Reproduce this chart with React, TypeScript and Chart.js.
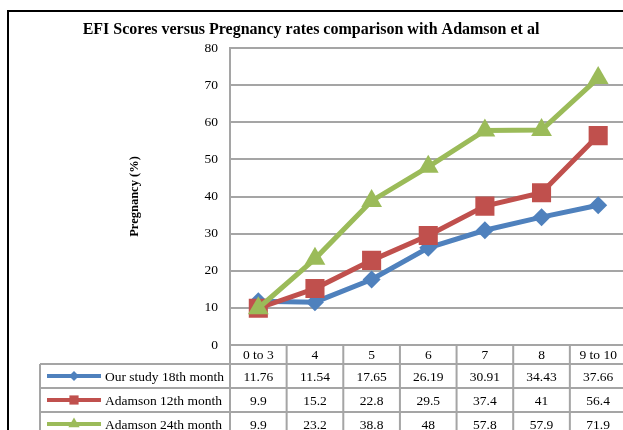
import React, { useEffect, useRef } from "react";
import { Chart, registerables } from "chart.js";
import { drawPoint } from "chart.js/helpers";

Chart.register(...registerables);

const categories = ["0 to 3", "4", "5", "6", "7", "8", "9 to 10"];
const ourStudy18 = [11.76, 11.54, 17.65, 26.19, 30.91, 34.43, 37.66];
const adamson12 = [9.9, 15.2, 22.8, 29.5, 37.4, 41, 56.4];
const adamson24 = [9.9, 23.2, 38.8, 48, 57.8, 57.9, 71.9];
const seriesNames = ["Our study 18th month", "Adamson 12th month", "Adamson 24th month"];
const seriesValues = [ourStudy18, adamson12, adamson24];
const seriesColors = ["#4F81BD", "#C0504D", "#9BBB59"];
const seriesMarkers = ["rectRot", "rect", "triangle"];
const seriesRadius = [9, 13.5, 12];
const titleText = "EFI Scores versus Pregnancy rates comparison with Adamson et al";
const yTitle = "Pregnancy (%)";

const FONT = "'Liberation Serif', 'Times New Roman', serif";
const GRID = "#a5a5a5";

const tablePlugin = {
  id: "dataTable",
  afterDraw(chart: any) {
    const ctx = chart.ctx;
    const ca = chart.chartArea;
    const xs = chart.scales.x;
    const n = categories.length;
    const colW = (ca.right - ca.left) / n;
    const headTop = ca.bottom;
    const headBottom = headTop + 19;
    const rowH = 24;
    const tableLeft = 40;
    const tableBottom = headBottom + rowH * 3;
    ctx.save();
    // outer border
    ctx.strokeStyle = "#000";
    ctx.lineWidth = 2;
    ctx.beginPath();
    ctx.moveTo(8, 700);
    ctx.lineTo(8, 11);
    ctx.lineTo(1000, 11);
    ctx.stroke();
    // title
    ctx.fillStyle = "#000";
    ctx.font = "bold 16px " + FONT;
    ctx.textAlign = "center";
    ctx.textBaseline = "middle";
    ctx.fillText(titleText, 311, 30);
    // table lines
    ctx.strokeStyle = GRID;
    ctx.lineWidth = 2;
    ctx.beginPath();
    for (let i = 0; i <= n; i++) {
      const x = ca.left + i * colW;
      ctx.moveTo(x, headTop);
      ctx.lineTo(x, tableBottom);
    }
    ctx.moveTo(tableLeft, headBottom);
    ctx.lineTo(tableLeft, tableBottom);
    for (let r = 0; r <= 3; r++) {
      const y = headBottom + r * rowH;
      ctx.moveTo(tableLeft, y);
      ctx.lineTo(ca.right + 20, y);
    }
    ctx.stroke();
    // header text
    ctx.fillStyle = "#000";
    ctx.font = "13.5px " + FONT;
    ctx.textAlign = "center";
    ctx.textBaseline = "middle";
    categories.forEach((c, i) => {
      ctx.fillText(c, xs.getPixelForValue(i), (headTop + headBottom) / 2 + 1);
    });
    // rows
    seriesValues.forEach((vals, r) => {
      const cy = headBottom + r * rowH + rowH / 2;
      vals.forEach((v, i) => {
        ctx.fillStyle = "#000";
        ctx.textAlign = "center";
        ctx.fillText(String(v), xs.getPixelForValue(i), cy + 1);
      });
      // legend key
      ctx.strokeStyle = seriesColors[r];
      ctx.lineWidth = 4;
      ctx.beginPath();
      ctx.moveTo(47, cy);
      ctx.lineTo(101, cy);
      ctx.stroke();
      ctx.fillStyle = seriesColors[r];
      ctx.strokeStyle = seriesColors[r];
      const mr = [5, 6.5, 6.5][r];
      drawPoint(ctx, { pointStyle: seriesMarkers[r] as any, radius: mr, borderWidth: 0, rotation: 0 }, 74, cy);
      ctx.fillStyle = "#000";
      ctx.textAlign = "left";
      ctx.fillText(seriesNames[r], 105, cy + 1);
    });
    ctx.restore();
  },
};

export default function App() {
  const ref = useRef<HTMLCanvasElement>(null);
  useEffect(() => {
    if (!ref.current) return;
    const chart = new Chart(ref.current, {
      type: "line",
      data: {
        labels: categories,
        datasets: seriesValues.map((vals, i) => ({
          label: seriesNames[i],
          data: vals,
          borderColor: seriesColors[i],
          backgroundColor: seriesColors[i],
          borderWidth: 5,
          pointStyle: seriesMarkers[i] as any,
          pointRadius: seriesRadius[i],
          pointBorderWidth: 0,
          pointBackgroundColor: seriesColors[i],
          tension: 0,
          order: 3 - i,
        })),
      },
      options: {
        animation: false,
        responsive: false,
        devicePixelRatio: 1,
        layout: { padding: { left: 123, top: 48, right: 13, bottom: 95 } },
        plugins: {
          legend: { display: false },
          title: { display: false },
          tooltip: { enabled: false },
        },
        scales: {
          x: {
            type: "category",
            offset: true,
            grid: { display: false, drawTicks: false },
            ticks: { display: false },
            border: { display: true, color: GRID, width: 2 },
            afterFit: (s: any) => {
              s.height = 0;
            },
          },
          y: {
            min: 0,
            max: 80,
            ticks: {
              stepSize: 10,
              padding: 12,
              color: "#000",
              font: { family: FONT, size: 13.5 },
            },
            grid: { color: GRID, lineWidth: 2, drawTicks: false },
            border: { display: true, color: GRID, width: 2 },
            title: {
              display: true,
              text: yTitle,
              color: "#000",
              font: { family: FONT, size: 12.5, weight: "bold" },
            },
            afterFit: (s: any) => {
              s.width = 107;
            },
          },
        },
      },
      plugins: [tablePlugin],
    });
    return () => chart.destroy();
  }, []);
  return (
    <div style={{ position: "absolute", left: 0, top: 0, width: 623, height: 430, overflow: "hidden", background: "#fff" }}>
      <canvas ref={ref} width={640} height={440} style={{ display: "block" }} />
    </div>
  );
}
